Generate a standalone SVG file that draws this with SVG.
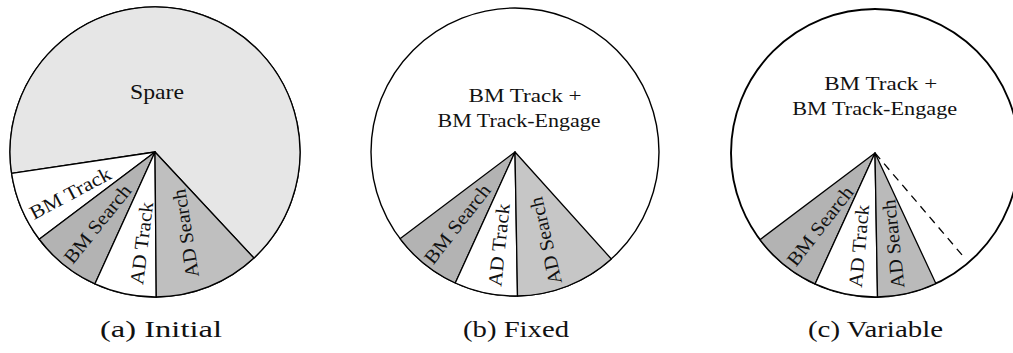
<svg xmlns="http://www.w3.org/2000/svg" width="1013" height="353" viewBox="0 0 1013 353">
  <style>
    .edge { stroke: #000; stroke-width: 1.3; stroke-linejoin: round; }
    .rim { fill: #fff; stroke: #000; stroke-width: 1.4; }
    .white { fill: #fff; }
    .spare { fill: #e6e6e6; }
    .dark { fill: #b3b3b3; }
    .mid { fill: #bfbfbf; }
    .light { fill: #c6c6c6; }
    .midc { fill: #bababa; }
    text { font-family: "Liberation Serif", "Times New Roman", serif; fill: #111; }
    .lbl { font-size: 19.5px; text-anchor: middle; dominant-baseline: central; }
    .head { font-size: 19.5px; text-anchor: middle; }
    .big { font-size: 22px; text-anchor: middle; }
    .cap { font-size: 22.5px; text-anchor: middle; }
    .dash { stroke: #000; stroke-width: 1.3; stroke-dasharray: 8 6; fill: none; }
  </style>

  <!-- (a) Initial allocation -->
  <g id="pie-initial" font-family="Liberation Serif, serif">
    <circle class="rim" cx="155" cy="152" r="145"/>
    <path id="a-spare" class="spare edge" d="M155,152 L11.59,173.43 A145,145 0 1 1 253.89,258.05 Z"/>
    <path id="a-bm-track" class="white edge" d="M155,152 L39.20,239.26 A145,145 0 0 1 11.59,173.43 Z"/>
    <path id="a-bm-search" class="dark edge" d="M155,152 L94.87,283.94 A145,145 0 0 1 39.20,239.26 Z"/>
    <path id="a-ad-track" class="white edge" d="M155,152 L156.27,296.99 A145,145 0 0 1 94.87,283.94 Z"/>
    <path id="a-ad-search" class="mid edge" d="M155,152 L253.89,258.05 A145,145 0 0 1 156.27,296.99 Z"/>
    <text class="big" x="157" y="98.5" textLength="54" lengthAdjust="spacingAndGlyphs">Spare</text>
    <text class="lbl" transform="translate(70.3,193.3) rotate(-28)" textLength="89" lengthAdjust="spacingAndGlyphs">BM Track</text>
    <text class="lbl" transform="translate(97.5,224) rotate(-51)" textLength="95" lengthAdjust="spacingAndGlyphs">BM Search</text>
    <text class="lbl" transform="translate(141.7,243.3) rotate(-83)" textLength="83" lengthAdjust="spacingAndGlyphs">AD Track</text>
    <text class="lbl" transform="translate(185.7,233.3) rotate(-99)" textLength="89" lengthAdjust="spacingAndGlyphs">AD Search</text>
  </g>

  <!-- (b) Fixed allocation -->
  <g id="pie-fixed">
    <circle class="rim" cx="515" cy="152" r="144"/>
    <path id="b-bm-search" class="dark edge" d="M515,152 L455.28,283.03 A144,144 0 0 1 400.00,238.66 Z"/>
    <path id="b-ad-track" class="white edge" d="M515,152 L517.51,295.98 A144,144 0 0 1 455.28,283.03 Z"/>
    <path id="b-ad-search" class="light edge" d="M515,152 L611.36,259.01 A144,144 0 0 1 517.51,295.98 Z"/>
    <text class="head" x="525" y="101.7" textLength="113" lengthAdjust="spacingAndGlyphs">BM Track +</text>
    <text class="head" x="519" y="127.3" textLength="163" lengthAdjust="spacingAndGlyphs">BM Track-Engage</text>
    <text class="lbl" transform="translate(457.3,224) rotate(-52)" textLength="95" lengthAdjust="spacingAndGlyphs">BM Search</text>
    <text class="lbl" transform="translate(499,245) rotate(-84)" textLength="83" lengthAdjust="spacingAndGlyphs">AD Track</text>
    <text class="lbl" transform="translate(545.7,240.7) rotate(-103)" textLength="89" lengthAdjust="spacingAndGlyphs">AD Search</text>
  </g>

  <!-- (c) Variable allocation -->
  <g id="pie-variable">
    <circle class="rim" cx="875" cy="153" r="144" style="stroke-width:1.9"/>
    <path id="c-bm-search" class="dark edge" d="M875,153 L815.06,283.93 A144,144 0 0 1 760.00,239.66 Z"/>
    <path id="c-ad-track" class="white edge" d="M875,153 L877.51,296.98 A144,144 0 0 1 815.06,283.93 Z"/>
    <path id="c-ad-search" class="midc edge" d="M875,153 L935.86,283.51 A144,144 0 0 1 877.51,296.98 Z"/>
    <text class="head" x="880.7" y="90" textLength="113" lengthAdjust="spacingAndGlyphs">BM Track +</text>
    <text class="head" x="874.7" y="115" textLength="165" lengthAdjust="spacingAndGlyphs">BM Track-Engage</text>
    <text class="lbl" transform="translate(820,226) rotate(-52)" textLength="95" lengthAdjust="spacingAndGlyphs">BM Search</text>
    <text class="lbl" transform="translate(859,246) rotate(-85)" textLength="83" lengthAdjust="spacingAndGlyphs">AD Track</text>
    <text class="lbl" transform="translate(893.3,244) rotate(-96)" textLength="89" lengthAdjust="spacingAndGlyphs">AD Search</text>
  </g>

  <!-- movable boundary of the variable share -->
  <g id="connectors">
    <path class="dash" d="M875,153 L965.9,259.5"/>
  </g>

  <!-- sub-figure captions -->
  <g id="captions">
    <text class="cap" x="161" y="337" textLength="122" lengthAdjust="spacingAndGlyphs">(a)  Initial</text>
    <text class="cap" x="516" y="337" textLength="106" lengthAdjust="spacingAndGlyphs">(b)  Fixed</text>
    <text class="cap" x="875.5" y="337" textLength="135" lengthAdjust="spacingAndGlyphs">(c)  Variable</text>
  </g>
</svg>
